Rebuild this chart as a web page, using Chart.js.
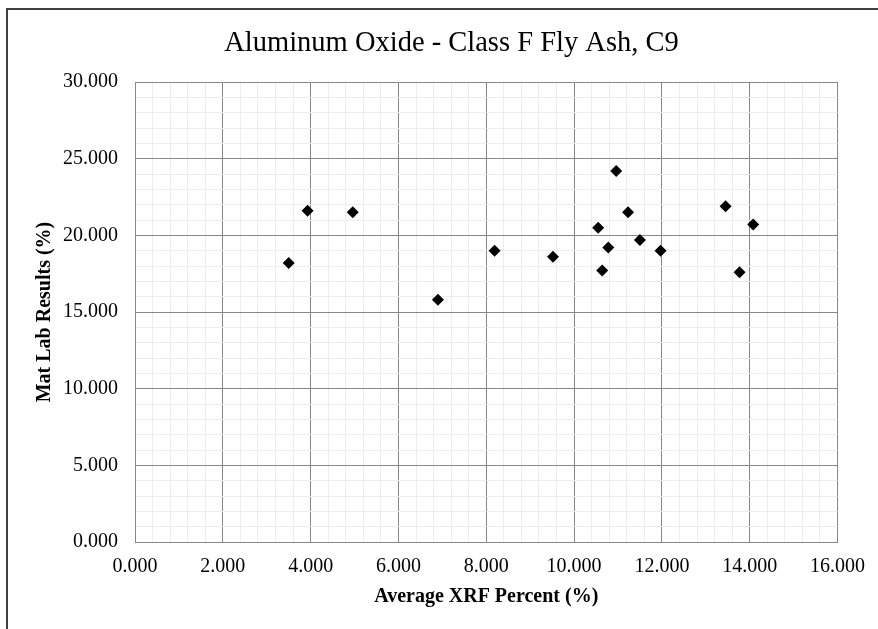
<!DOCTYPE html>
<html>
<head>
<meta charset="utf-8">
<script src="https://cdn.jsdelivr.net/npm/chart.js@4.4.0/dist/chart.umd.min.js"></script>
<style>
  html, body { margin: 0; padding: 0; background: #fff; overflow: hidden; }
  #wrap { position: relative; width: 878px; height: 629px; }
</style>
</head>
<body>
<div id="wrap"><canvas id="scatterChart" width="878" height="629"></canvas></div>
<script>
// values
var xrfPercent = [3.50, 3.93, 4.96, 6.90, 8.19, 9.52, 10.55, 10.64, 10.78, 10.96, 11.23, 11.50, 11.97, 13.45, 13.77, 14.08];
var matLabResults = [18.2, 21.6, 21.5, 15.8, 19.0, 18.6, 20.5, 17.7, 19.2, 24.2, 21.5, 19.7, 19.0, 21.9, 17.6, 20.7];

var chartTitle = "Aluminum Oxide - Class F Fly Ash, C9";
var xTitle = "Average XRF Percent (%)";
var yTitle = "Mat Lab Results (%)";

var xMax = 16, xMajor = 2, xMinor = 0.4;
var yMax = 30, yMajor = 5, yMinor = 1;

var serif = "'Liberation Serif', 'Times New Roman', serif";
var majorColor = "#878787";
var minorColor = "#ededed";

function isMajor(v, step) {
    var r = v / step;
    return Math.abs(r - Math.round(r)) < 1e-6;
}

var points = [];
for (var i = 0; i < xrfPercent.length; i++) {
    points.push({ x: xrfPercent[i], y: matLabResults[i] });
}

// dark outline round the whole chart, like the excel chart border
var frame = {
    id: 'frame',
    beforeDraw: function(chart) {
        var c = chart.ctx;
        c.save();
        c.strokeStyle = '#404040';
        c.lineWidth = 2;
        c.beginPath();
        c.moveTo(7, chart.height);
        c.lineTo(7, 9);
        c.lineTo(chart.width, 9);
        c.stroke();
        c.restore();
    }
};

var ctx = document.getElementById("scatterChart");

var scatterChart = new Chart(ctx, {
    type: 'scatter',
    data: {
        datasets: [{
            label: yTitle,
            data: points,
            pointStyle: 'rectRot',
            pointRadius: 6,
            pointBackgroundColor: '#000',
            pointBorderColor: '#000',
            pointBorderWidth: 0,
            showLine: false
        }]
    },
    plugins: [frame],
    options: {
        responsive: false,
        animation: false,
        events: [],
        layout: { padding: { left: 25, right: 0, top: 0, bottom: 0 } },
        plugins: {
            legend: { display: false },
            tooltip: { enabled: false },
            title: {
                display: true,
                text: chartTitle,
                color: '#000',
                font: { family: serif, size: 28.5, weight: 'normal' },
                padding: { top: 26, bottom: 21.8 }
            }
        },
        scales: {
            x: {
                type: 'linear',
                min: 0,
                max: xMax,
                afterFit: function(scale) { scale.height = 87; },
                border: { display: true, color: majorColor, width: 1 },
                grid: {
                    drawTicks: false,
                    color: function(c) { return isMajor(c.tick.value, xMajor) ? majorColor : minorColor; }
                },
                ticks: {
                    stepSize: xMinor,
                    autoSkip: false,
                    maxRotation: 0,
                    padding: 13,
                    color: '#000',
                    font: { family: serif, size: 20 },
                    callback: function(v) { return isMajor(v, xMajor) ? v.toFixed(3) : ''; }
                },
                title: {
                    display: true,
                    text: xTitle,
                    color: '#000',
                    font: { family: serif, size: 20, weight: 'bold' },
                    padding: { top: 0, bottom: 20 }
                }
            },
            y: {
                type: 'linear',
                min: 0,
                max: yMax,
                afterFit: function(scale) { scale.width = 110; },
                border: { display: true, color: majorColor, width: 1 },
                grid: {
                    drawTicks: false,
                    color: function(c) { return isMajor(c.tick.value, yMajor) ? majorColor : minorColor; }
                },
                ticks: {
                    stepSize: yMinor,
                    autoSkip: false,
                    padding: 17,
                    color: '#000',
                    font: { family: serif, size: 20 },
                    callback: function(v) { return isMajor(v, yMajor) ? v.toFixed(3) : ''; }
                },
                title: {
                    display: true,
                    text: yTitle,
                    color: '#000',
                    font: { family: serif, size: 20, weight: 'bold' },
                    padding: { top: 8, bottom: 0 }
                }
            },
            // empty right axis, only keeps room so the title stays centred like the original
            spacer: {
                type: 'linear',
                position: 'right',
                display: true,
                afterFit: function(scale) { scale.width = 40; },
                grid: { display: false },
                border: { display: false },
                ticks: { display: false }
            }
        }
    }
});
</script>
</body>
</html>
